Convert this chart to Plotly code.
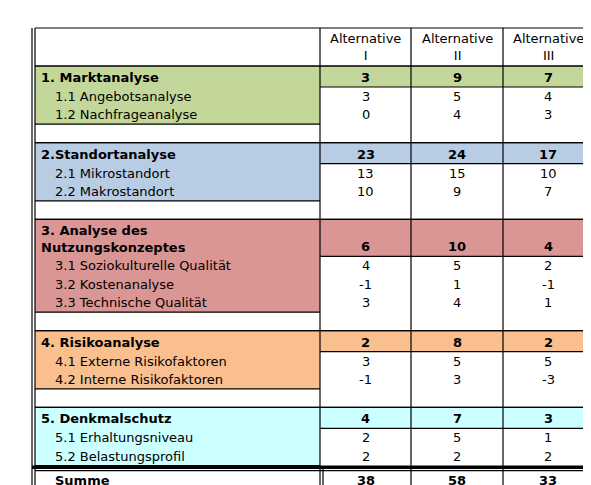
import plotly.graph_objects as go

# ---- data ----
columns = ["Alternative<br>I", "Alternative<br>II", "Alternative<br>III"]
sections = ["1. Marktanalyse", "2.Standortanalyse", "3. Analyse des<br>Nutzungskonzeptes",
            "4. Risikoanalyse", "5. Denkmalschutz"]
section_totals = [[3, 9, 7], [23, 24, 17], [6, 10, 4], [2, 8, 2], [4, 7, 3]]
sub_labels = [["1.1 Angebotsanalyse", "1.2 Nachfrageanalyse"],
              ["2.1 Mikrostandort", "2.2 Makrostandort"],
              ["3.1 Soziokulturelle Qualität", "3.2 Kostenanalyse", "3.3 Technische Qualität"],
              ["4.1 Externe Risikofaktoren", "4.2 Interne Risikofaktoren"],
              ["5.1 Erhaltungsniveau", "5.2 Belastungsprofil"]]
sub_values = [[[3, 5, 4], [0, 4, 3]],
              [[13, 15, 10], [10, 9, 7]],
              [[4, 5, 2], [-1, 1, -1], [3, 4, 1]],
              [[3, 5, 5], [-1, 3, -3]],
              [[2, 5, 1], [2, 2, 2]]]
sum_label = "Summe"
sum_values = [38, 58, 33]
colors = ["#c4d79b", "#b8cce4", "#da9694", "#fabf8f", "#ccffff"]

# ---- layout geometry (pixels) ----
XL, X0, XR = 19, 304, 577
col_edges = [304, 395, 487, 577]
FONT = "DejaVu Sans"
shapes, ann = [], []

def rect(x0, y0, x1, y1, fill, lw=0):
    shapes.append(dict(type="rect", x0=x0, y0=y0, x1=x1, y1=y1, fillcolor=fill,
                       line=dict(width=lw, color="black"), layer="below"))

def line(x0, y0, x1, y1, w=1.2):
    shapes.append(dict(type="line", x0=x0, y0=y0, x1=x1, y1=y1, line=dict(color="black", width=w)))

def text(x, y, s, bold=False, anchor="left", size=13):
    ann.append(dict(x=x, y=y, text=f"<b>{s}</b>" if bold else s, showarrow=False,
                    xanchor=anchor, yanchor="middle", align=anchor,
                    font=dict(family=FONT, size=size, color="black")))

top = 12
hdr_bot = 50
for i, c in enumerate(columns):
    text((col_edges[i] + col_edges[i + 1]) / 2, 31, c, anchor="center")
line(XL, top, XR, top)
line(XL, hdr_bot, XR, hdr_bot)

y = hdr_bot
ROW = 18.6
for k, sec in enumerate(sections):
    nlines = sec.count("<br>") + 1
    h_head = 21 if nlines == 1 else 37
    nsub = len(sub_labels[k])
    sec_bot = y + h_head + nsub * ROW
    rect(XL, y, X0, sec_bot, colors[k])
    rect(X0, y, XR, y + h_head, colors[k])
    text(23, y + h_head / 2 + 1, sec, bold=True)
    for i, v in enumerate(section_totals[k]):
        text((col_edges[i] + col_edges[i + 1]) / 2, y + h_head - 9.5, v, bold=True, anchor="center")
    line(X0, y + h_head, XR, y + h_head)
    for j, lab in enumerate(sub_labels[k]):
        yy = y + h_head + ROW * (j + 0.5)
        text(37, yy, lab)
        for i, v in enumerate(sub_values[k][j]):
            text((col_edges[i] + col_edges[i + 1]) / 2, yy, v, anchor="center")
    line(XL, y, XR, y)
    line(XL, sec_bot, X0, sec_bot)
    if k < len(sections) - 1:
        y = sec_bot + 18.5
        line(XL, y, XR, y)
    else:
        y = sec_bot

# thick separator and sum row
shapes.append(dict(type="rect", x0=16, y0=y, x1=XR, y1=y + 3.5, fillcolor="black", line=dict(width=0)))
sy0 = y + 5
sy1 = sy0 + 20
line(XL, sy0, XR, sy0)
text(37, (sy0 + sy1) / 2, sum_label, bold=True)
for i, v in enumerate(sum_values):
    text((col_edges[i] + col_edges[i + 1]) / 2, (sy0 + sy1) / 2, v, bold=True, anchor="center")
line(XL, sy1, XR, sy1)
line(16, sy1 + 3, 579, sy1 + 3)

bottom = sy1
line(16, top, 16, sy1 + 3)
line(XL, top, XL, bottom)
for xe in col_edges[:-1]:
    line(xe, top, xe, bottom)
line(XR, top, XR, bottom)
line(579, top, 579, sy1 + 3)
line(X0 + 3, y + 3.5, X0 + 3, sy1)

fig = go.Figure()
fig.update_layout(width=591, height=485, margin=dict(l=0, r=0, t=0, b=0),
                  paper_bgcolor="white", plot_bgcolor="white",
                  xaxis=dict(range=[-8, 583], visible=False, fixedrange=True),
                  yaxis=dict(range=[477, -8], visible=False, fixedrange=True),
                  shapes=shapes, annotations=ann, showlegend=False)
fig.write_html("out.html")
